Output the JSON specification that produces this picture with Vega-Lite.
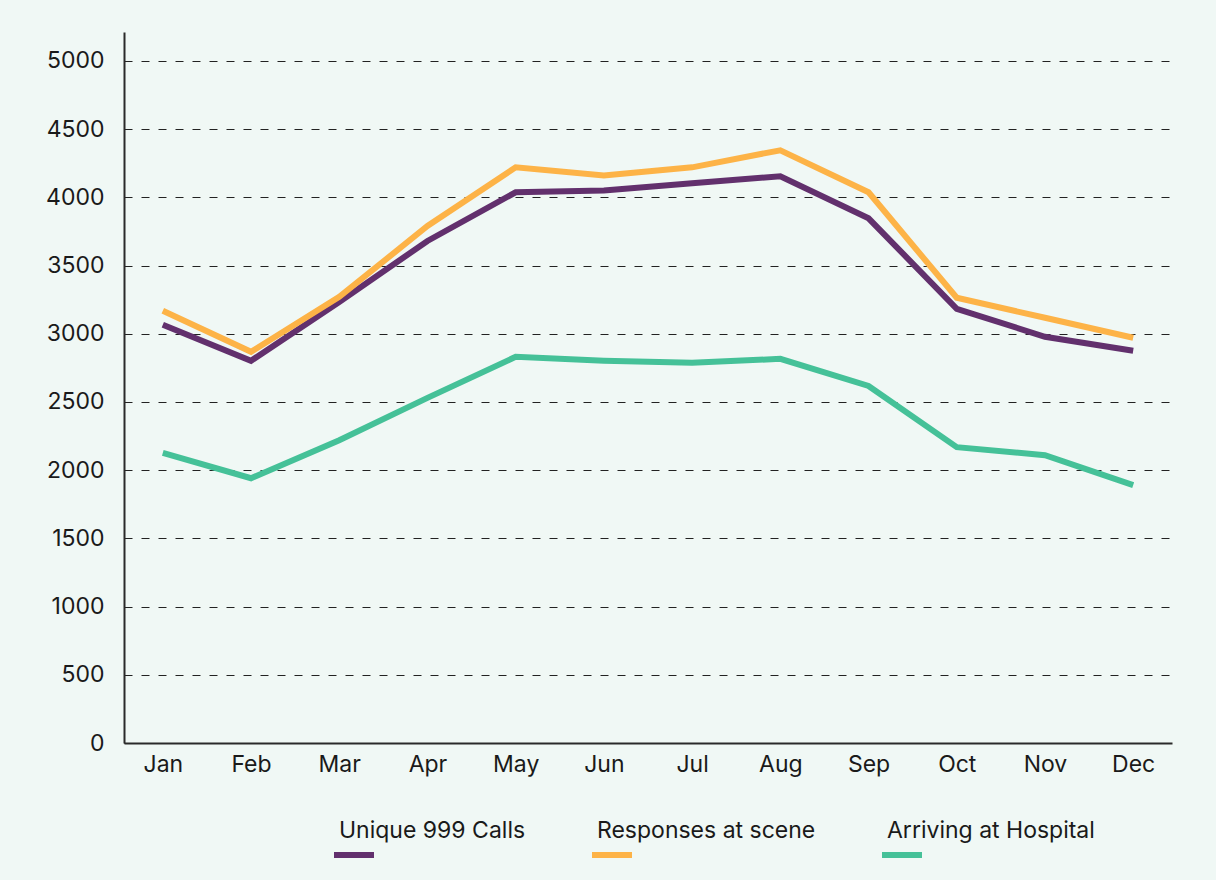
{
  "$schema": "https://vega.github.io/schema/vega-lite/v6.json",
  "width": 1048,
  "height": 711,
  "autosize": {"type": "none"},
  "padding": {"left": 124, "top": 32, "right": 44, "bottom": 137},
  "background": "#f0f8f5",
  "config": {
    "view": {"stroke": null},
    "font": "Inter"
  },
  "data": {
    "values": [
      {"month": "Jan", "series": "Unique 999 Calls", "value": 3066},
      {"month": "Feb", "series": "Unique 999 Calls", "value": 2802},
      {"month": "Mar", "series": "Unique 999 Calls", "value": 3233},
      {"month": "Apr", "series": "Unique 999 Calls", "value": 3680},
      {"month": "May", "series": "Unique 999 Calls", "value": 4037},
      {"month": "Jun", "series": "Unique 999 Calls", "value": 4051},
      {"month": "Jul", "series": "Unique 999 Calls", "value": 4103},
      {"month": "Aug", "series": "Unique 999 Calls", "value": 4154},
      {"month": "Sep", "series": "Unique 999 Calls", "value": 3846},
      {"month": "Oct", "series": "Unique 999 Calls", "value": 3183},
      {"month": "Nov", "series": "Unique 999 Calls", "value": 2978},
      {"month": "Dec", "series": "Unique 999 Calls", "value": 2875},
      {"month": "Jan", "series": "Responses at scene", "value": 3169},
      {"month": "Feb", "series": "Responses at scene", "value": 2868},
      {"month": "Mar", "series": "Responses at scene", "value": 3270},
      {"month": "Apr", "series": "Responses at scene", "value": 3790},
      {"month": "May", "series": "Responses at scene", "value": 4220},
      {"month": "Jun", "series": "Responses at scene", "value": 4161},
      {"month": "Jul", "series": "Responses at scene", "value": 4220},
      {"month": "Aug", "series": "Responses at scene", "value": 4345},
      {"month": "Sep", "series": "Responses at scene", "value": 4037},
      {"month": "Oct", "series": "Responses at scene", "value": 3264},
      {"month": "Nov", "series": "Responses at scene", "value": 3117},
      {"month": "Dec", "series": "Responses at scene", "value": 2971},
      {"month": "Jan", "series": "Arriving at Hospital", "value": 2126},
      {"month": "Feb", "series": "Arriving at Hospital", "value": 1941},
      {"month": "Mar", "series": "Arriving at Hospital", "value": 2220},
      {"month": "Apr", "series": "Arriving at Hospital", "value": 2530},
      {"month": "May", "series": "Arriving at Hospital", "value": 2831},
      {"month": "Jun", "series": "Arriving at Hospital", "value": 2802},
      {"month": "Jul", "series": "Arriving at Hospital", "value": 2787},
      {"month": "Aug", "series": "Arriving at Hospital", "value": 2816},
      {"month": "Sep", "series": "Arriving at Hospital", "value": 2617},
      {"month": "Oct", "series": "Arriving at Hospital", "value": 2169},
      {"month": "Nov", "series": "Arriving at Hospital", "value": 2110},
      {"month": "Dec", "series": "Arriving at Hospital", "value": 1890}
    ]
  },
  "mark": {"type": "line", "strokeWidth": 6, "strokeJoin": "miter", "strokeCap": "butt"},
  "encoding": {
    "x": {
      "field": "month",
      "type": "ordinal",
      "sort": ["Jan","Feb","Mar","Apr","May","Jun","Jul","Aug","Sep","Oct","Nov","Dec"],
      "scale": {"type": "point", "padding": 0.44},
      "axis": {
        "title": null,
        "labelAngle": 0,
        "labelFont": "Inter",
        "labelFontSize": 23,
        "labelColor": "#1a1a1a",
        "labelPadding": 10,
        "ticks": false,
        "grid": false,
        "domainColor": "#2a2a2a",
        "domainWidth": 2
      }
    },
    "y": {
      "field": "value",
      "type": "quantitative",
      "scale": {"domain": [0, 5212], "nice": false},
      "axis": {
        "title": null,
        "format": "d",
        "values": [0,500,1000,1500,2000,2500,3000,3500,4000,4500,5000],
        "labelFont": "Inter",
        "labelFontSize": 23,
        "labelColor": "#1a1a1a",
        "labelPadding": 20,
        "ticks": false,
        "grid": true,
        "gridColor": "#222222",
        "gridWidth": 1.2,
        "gridDash": [8, 9],
        "domainColor": "#2a2a2a",
        "domainWidth": 2
      }
    },
    "color": {
      "field": "series",
      "type": "nominal",
      "scale": {
        "domain": ["Unique 999 Calls", "Responses at scene", "Arriving at Hospital"],
        "range": ["#62306d", "#fdb347", "#45c198"]
      },
      "legend": {
        "title": null,
        "orient": "none",
        "direction": "horizontal",
        "legendX": 207,
        "legendY": 776,
        "symbolType": "M-1,1.2L1,1.2",
        "symbolSize": 1600,
        "symbolStrokeWidth": 6,
        "symbolFillColor": "transparent",
        "labelFont": "Inter",
        "labelFontSize": 23,
        "labelColor": "#1a1a1a",
        "labelOffset": -38,
        "labelLimit": 400,
        "columnPadding": 54
      }
    }
  }
}
